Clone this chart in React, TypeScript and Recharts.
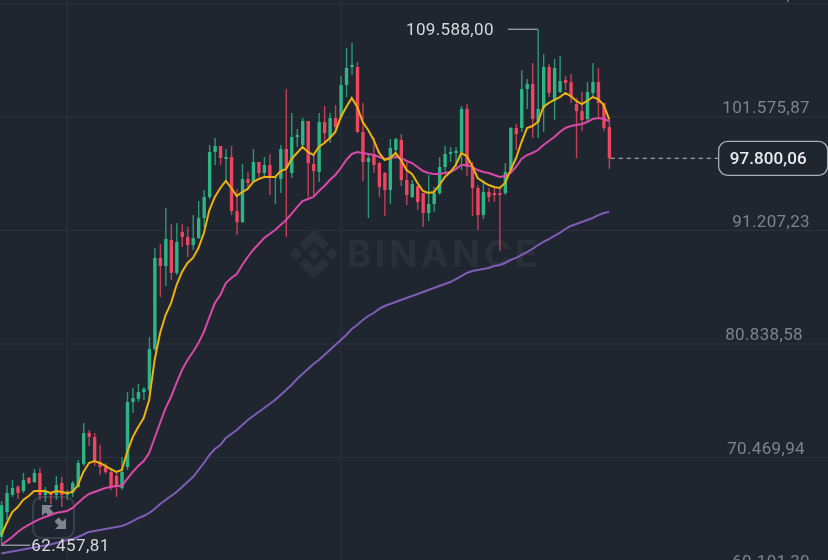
import { Bar, CartesianGrid, ComposedChart, Customized, Line, ReferenceDot, ReferenceLine, XAxis, YAxis } from "recharts";

const opens = [
  63210, 65490, 67050, 67780, 67410, 68600, 68230, 69060, 67050, 67230, 67050, 68140, 67050, 67320, 67780, 69880,
  72710, 72340, 70060, 69600, 69150, 68780, 67690, 69600, 75540, 75820, 76450, 76640, 80380, 88700, 87960, 90340,
  87330, 91070, 90610, 89880, 90520, 92350, 94270, 98380, 98930, 97740, 97920, 92990, 91980, 95910, 95640, 97470,
  96460, 97190, 96000, 95910, 98650, 96460, 99750, 99020, 101210, 97280, 96550, 101120, 99660, 101480, 101580, 104500,
  106140, 106140, 100210, 97470, 98200, 97370, 96460, 94910, 98560, 99480, 95820, 94270, 95270, 94630, 92810, 93630,
  94630, 97010, 98200, 98290, 98380, 102310, 96920, 95090, 92620, 94720, 94630, 94630, 94630, 96730, 100570, 100570,
  104130, 104590, 101120, 102400, 106140, 103040, 103860, 104960, 104770, 102760, 102120, 101390, 103770, 104770, 102860, 100660,
];
const closes = [
  66130, 67230, 67690, 67230, 68420, 68140, 69060, 67050, 67410, 67050, 67960, 67050, 67320, 68140, 69970, 72710,
  72340, 70060, 69600, 69150, 67780, 67780, 69150, 75540, 75910, 76450, 76730, 80380, 88700, 87960, 90430, 87330,
  90160, 90610, 89880, 90520, 92350, 94270, 98380, 98930, 97830, 97920, 92990, 91980, 95910, 95550, 97470, 96460,
  97190, 96100, 96100, 98650, 96920, 99750, 99930, 101210, 97370, 96640, 101120, 100110, 101480, 100660, 104500, 106050,
  106330, 100210, 97470, 97830, 97190, 95180, 94910, 98740, 99570, 95820, 94450, 95460, 93810, 92810, 93630, 94630,
  97010, 98200, 98380, 98470, 102310, 97010, 95090, 92620, 94720, 94270, 94450, 94450, 96550, 100570, 100020, 104130,
  104590, 101390, 102310, 106140, 103770, 106050, 104860, 104680, 103400, 102120, 101300, 103860, 104770, 102860, 100570, 97800.06,
];
const highs = [
  66500, 67960, 68420, 67960, 69060, 68690, 69420, 69510, 67780, 67320, 68780, 68690, 67500, 68320, 70240, 73620,
  72980, 72710, 71610, 69970, 69510, 69060, 70520, 76450, 76820, 77190, 76910, 81480, 89610, 89970, 93260, 91800,
  91890, 91800, 91530, 92620, 93900, 94910, 99020, 99660, 98930, 98650, 98930, 95000, 97280, 96550, 98650, 97470,
  97920, 98200, 96100, 99020, 104130, 101940, 100480, 101480, 101210, 98100, 101940, 102580, 101940, 102670, 105320, 107880,
  108340, 106600, 102860, 98290, 99750, 97470, 96550, 99570, 99660, 100020, 97650, 95820, 95270, 94630, 96280, 95180,
  97920, 98930, 98840, 98840, 102580, 102760, 97470, 95360, 95820, 95090, 95180, 95180, 97370, 100660, 100940, 105870,
  105050, 106510, 109588, 107330, 106420, 106870, 107150, 105320, 105510, 103310, 103860, 104770, 106510, 106050, 102860, 101480,
];
const lows = [
  62457.81, 64760, 66860, 66680, 67230, 68050, 68140, 66590, 66410, 66220, 66590, 65950, 66590, 66860, 67690, 69700,
  71520, 69700, 68870, 68960, 67500, 66860, 67500, 69330, 74540, 75540, 75720, 76450, 80200, 85130, 86140, 86690,
  87140, 89700, 88790, 89430, 90430, 91530, 94090, 97190, 97190, 95640, 92620, 90800, 91890, 95000, 95550, 96100,
  96100, 94450, 93630, 94630, 90610, 96000, 98840, 98740, 94270, 94270, 95640, 99290, 99200, 100390, 101390, 103400,
  105410, 100110, 95730, 92350, 96460, 94270, 92530, 93630, 97830, 95270, 93540, 94180, 93080, 91530, 92080, 92900,
  94450, 96550, 97470, 97010, 96730, 96190, 92530, 91250, 92260, 93810, 93810, 89340, 94450, 96550, 98560, 100210,
  102310, 99660, 99660, 100210, 103400, 101300, 103770, 104040, 102860, 97830, 100300, 101210, 103310, 101480, 100300, 96830,
];
const ma7 = [
  63390, 64490, 65490, 65950, 66590, 66950, 67410, 67410, 67410, 67230, 67410, 67320, 67230, 67320, 67960, 69150,
  69970, 70150, 69970, 69700, 69420, 69150, 69330, 70970, 72340, 73260, 74080, 75720, 79380, 81840, 83490, 84580,
  86230, 87420, 88240, 88700, 89610, 90980, 93080, 94270, 95090, 95730, 95090, 94360, 94720, 95000, 95640, 95910,
  96100, 96100, 96100, 96640, 96830, 97740, 98290, 98840, 98380, 98100, 98840, 99200, 99660, 100210, 101580, 102490,
  103310, 102490, 101120, 100390, 99480, 98290, 97650, 97830, 98290, 97650, 96730, 96370, 95550, 94820, 94630, 94720,
  95360, 96100, 96550, 97190, 98290, 98010, 97100, 96000, 95640, 95360, 95180, 95090, 95550, 96730, 97830, 99290,
  100570, 100750, 101120, 102490, 102860, 103130, 103400, 103770, 103490, 103040, 102760, 103040, 103400, 103220, 102670, 101390,
];
const ma25 = [
  62480, 62840, 63210, 63670, 64030, 64310, 64580, 64850, 65040, 65220, 65400, 65490, 65580, 65860, 66320, 66770,
  67140, 67320, 67500, 67690, 67780, 67870, 67870, 68510, 69150, 69700, 70150, 70880, 72250, 73620, 74990, 76000,
  77280, 78460, 79380, 80110, 80930, 81940, 83300, 84580, 85320, 86410, 86870, 87230, 88060, 88790, 89430, 89970,
  90520, 90890, 91250, 91710, 92170, 92720, 93350, 93900, 94090, 94270, 94820, 95270, 95820, 96280, 96920, 97650,
  98200, 98380, 98290, 98200, 98100, 97920, 97740, 97830, 97920, 97830, 97560, 97370, 97010, 96640, 96460, 96370,
  96370, 96460, 96550, 96820, 97190, 97190, 97010, 96730, 96550, 96460, 96280, 96100, 96190, 96460, 97010, 97740,
  98100, 98290, 98560, 99020, 99380, 99750, 100210, 100570, 100750, 100840, 100940, 101120, 101390, 101480, 101390, 101210,
];
const ma99 = [
  61700, 61790, 61880, 61970, 62070, 62160, 62250, 62340, 62430, 62520, 62660, 62800, 62930, 63030, 63210, 63440,
  63670, 63760, 63850, 63940, 64030, 64120, 64210, 64400, 64670, 64940, 65130, 65400, 65770, 66220, 66590, 66950,
  67320, 67780, 68230, 68690, 69330, 69970, 70700, 71250, 71610, 72250, 72620, 72980, 73440, 73900, 74260, 74630,
  74990, 75360, 75720, 76180, 76640, 77090, 77640, 78100, 78560, 79010, 79380, 79830, 80290, 80750, 81210, 81660,
  82210, 82580, 83030, 83400, 83670, 84040, 84310, 84490, 84680, 84860, 85040, 85220, 85410, 85590, 85770, 85950,
  86140, 86320, 86500, 86770, 87050, 87330, 87510, 87600, 87690, 87780, 87960, 88060, 88240, 88510, 88700, 88970,
  89240, 89520, 89880, 90160, 90430, 90710, 90980, 91340, 91620, 91800, 91980, 92170, 92350, 92620, 92810, 92900,
];
const priceTicks = [111944.51, 101575.87, 91207.23, 80838.58, 70469.94, 60101.3];
const timeLines = [12, 62];
const lastPrice = 97800.06;
const topPrice = 109588;
const bottomPrice = 62457.81;

const UP = "#2EB585";
const DOWN = "#EE4560";
const BG = "#1F2630";
const GRID = "#2C323C";
const FONT = "Roboto, sans-serif";

const candles = opens.map((open, i) => ({
  idx: i,
  open,
  close: closes[i],
  high: highs[i],
  low: lows[i],
  ma7: ma7[i],
  ma25: ma25[i],
  ma99: ma99[i],
}));

const fmt = (v: number) =>
  v.toLocaleString("de-DE", { minimumFractionDigits: 2, maximumFractionDigits: 2 });

function Candle(props: any) {
  const { x, y, width, height, payload } = props;
  const color = payload.close >= payload.open ? UP : DOWN;
  const cx = x + width / 2;
  const k = height / (payload.high - payload.low);
  const top = y + (payload.high - Math.max(payload.open, payload.close)) * k;
  const bottom = y + (payload.high - Math.min(payload.open, payload.close)) * k;
  return (
    <g>
      <rect x={cx - 0.7} y={y} width={1.4} height={height} fill={color} opacity={0.8} />
      <rect x={cx - 1.7} y={top} width={3.4} height={Math.max(bottom - top, 1)} fill={color} />
    </g>
  );
}

// labels sit a bit above their grid line, the source app nudges them sideways
const tickNudge: Record<string, number> = { "80.838,58": -7, "70.469,94": -5 };

function PriceTick(props: any) {
  const { y, payload } = props;
  const label = fmt(payload.value);
  return (
    <text
      x={810 + (tickNudge[label] ?? 0)}
      y={y - 10}
      textAnchor="end"
      dominantBaseline="central"
      fill="#7D838D"
      fontFamily={FONT}
      fontSize={17}
      letterSpacing={0.35}
    >
      {label}
    </text>
  );
}

function PriceTag(props: any) {
  const { cx, cy } = props;
  return (
    <g>
      <rect x={cx} y={cy - 17} width={109} height={34} rx={9} fill={BG} stroke="#A9AEB6" strokeWidth={1.3} />
      <text
        x={cx + 11}
        y={cy}
        dominantBaseline="central"
        fill="#EAECEF"
        fontFamily={FONT}
        fontWeight={500}
        fontSize={17}
        letterSpacing={0.1}
      >
        {fmt(lastPrice)}
      </text>
    </g>
  );
}

function ZoomButton() {
  return (
    <g>
      <rect x={33} y={497} width={41} height={41} rx={9} fill="#1F2630" fillOpacity={0.72} stroke="#3A404A" strokeWidth={2} />
      <g fill="#7F858F">
        <path d="M42 505 L53 505 L49.5 508.5 L53.5 512.5 L49.5 516.5 L45.5 512.5 L42 516 Z" />
        <path d="M66 529 L55 529 L58.5 525.5 L54.5 521.5 L58.5 517.5 L62.5 521.5 L66 518 Z" />
      </g>
    </g>
  );
}

function Watermark() {
  return (
    <div style={{ position: "absolute", left: 0, top: 0, width: 828, height: 560 }}>
      <svg width={828} height={560} style={{ position: "absolute", left: 0, top: 0 }}>
        <g fill="#2A3039" transform="translate(314 254)">
          <path d="M0 -6 L6 0 L0 6 L-6 0 Z" />
          <path d="M-18 -6 L-12 0 L-18 6 L-24 0 Z" />
          <path d="M18 -6 L24 0 L18 6 L12 0 Z" />
          <path d="M0 -25 L15 -10 L9 -4 L0 -13 L-9 -4 L-15 -10 Z" />
          <path d="M0 25 L15 10 L9 4 L0 13 L-9 4 L-15 10 Z" />
        </g>
        <text x={347} y={267} fill="#2A3039" fontFamily="Inter, sans-serif" fontWeight={700} fontSize={37} letterSpacing={3.6}>
          BINANCE
        </text>
      </svg>
    </div>
  );
}

export default function App() {
  return (
    <div style={{ position: "fixed", left: 0, top: 0, width: 828, height: 560, overflow: "hidden", background: BG }}>
      <Watermark />
      <div style={{ position: "absolute", left: 0, top: 0, filter: "blur(0.45px)" }}>
        <ComposedChart width={828} height={600} data={candles} margin={{ top: 0, right: 0, bottom: 0, left: 0 }}>
          <CartesianGrid stroke={GRID} horizontalValues={priceTicks} verticalValues={timeLines} />
          <XAxis dataKey="idx" type="number" domain={[-0.237, 150.97]} hide />
          <YAxis
            orientation="right"
            mirror
            domain={[57454, 112264]}
            ticks={priceTicks}
            tick={PriceTick}
            interval={0}
            axisLine={false}
            tickLine={false}
            allowDataOverflow
          />
          <Bar dataKey={(d: any) => [d.low, d.high]} barSize={4} shape={Candle} activeBar={false} isAnimationActive={false} />
          <Customized component={ZoomButton} />
          <Line dataKey="ma99" stroke="#7F5DB6" strokeWidth={2} dot={false} activeDot={false} isAnimationActive={false} />
          <Line dataKey="ma25" stroke="#DA49A9" strokeWidth={2} dot={false} activeDot={false} isAnimationActive={false} />
          <Line dataKey="ma7" stroke="#EDB20F" strokeWidth={2} dot={false} activeDot={false} isAnimationActive={false} />
          <ReferenceLine
            segment={[{ x: 92.5, y: topPrice }, { x: 98, y: topPrice }]}
            stroke="#9EA3AB"
            strokeWidth={1.3}
          />
          <ReferenceDot
            x={92.5}
            y={topPrice}
            r={0}
            stroke="none"
            label={{ value: fmt(topPrice), position: "left", offset: 14, fill: "#D5D8DC", fontSize: 17, letterSpacing: 0.35, fontFamily: FONT }}
          />
          <ReferenceLine
            segment={[{ x: 0, y: bottomPrice }, { x: 5.3, y: bottomPrice }]}
            stroke="#9EA3AB"
            strokeWidth={1.3}
          />
          <ReferenceDot
            x={5.3}
            y={bottomPrice}
            r={0}
            stroke="none"
            label={{ value: fmt(bottomPrice), position: "right", offset: 1, fill: "#D5D8DC", fontSize: 17, letterSpacing: 0.4, fontFamily: FONT }}
          />
          <ReferenceLine
            segment={[{ x: 111.3, y: lastPrice }, { x: 131, y: lastPrice }]}
            stroke="#9EA3AB"
            strokeWidth={1.3}
            strokeDasharray="4 4"
          />
          <ReferenceDot x={131} y={lastPrice} r={0} shape={PriceTag} />
        </ComposedChart>
      </div>
    </div>
  );
}
